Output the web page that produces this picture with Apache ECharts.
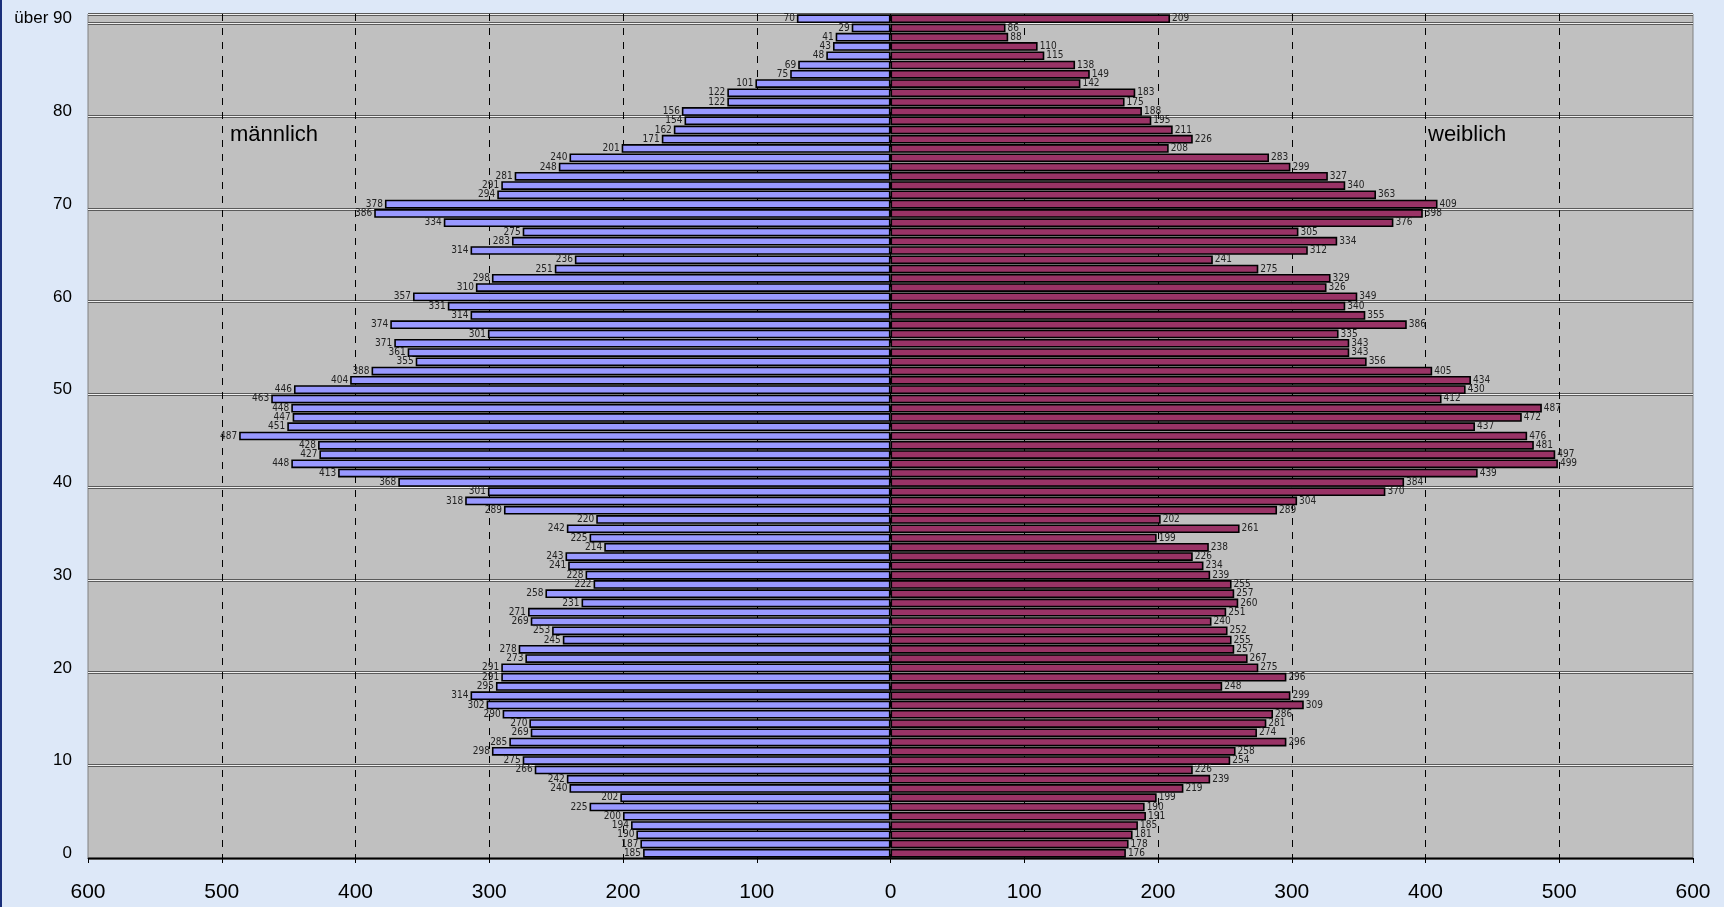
<!DOCTYPE html>
<html>
<head>
<meta charset="utf-8">
<script src="https://cdn.jsdelivr.net/npm/echarts@6/dist/echarts.min.js"></script>
<style>
html,body{margin:0;padding:0;background:#dde8f8;}
#chart{width:1724px;height:907px;}
</style>
</head>
<body>
<div id="chart"></div>
<script>
// Age categories (bottom to top)
const ages = ['0','1','2','3','4','5','6','7','8','9',
  '10','11','12','13','14','15','16','17','18','19',
  '20','21','22','23','24','25','26','27','28','29',
  '30','31','32','33','34','35','36','37','38','39',
  '40','41','42','43','44','45','46','47','48','49',
  '50','51','52','53','54','55','56','57','58','59',
  '60','61','62','63','64','65','66','67','68','69',
  '70','71','72','73','74','75','76','77','78','79',
  '80','81','82','83','84','85','86','87','88','89','über 90'];

// männlich, age 0 .. über 90
const male = [185,187,190,194,200,225,202,240,242,266,
  275,298,285,269,270,290,302,314,295,291,
  291,273,278,245,253,269,271,231,258,222,
  228,241,243,214,225,242,220,289,318,301,
  368,413,448,427,428,487,451,447,448,463,
  446,404,388,355,361,371,301,374,314,331,
  357,310,298,251,236,314,283,275,334,386,
  378,294,291,281,248,240,201,171,162,154,
  156,122,122,101,75,69,48,43,41,29,70];

// weiblich, age 0 .. über 90
const female = [176,178,181,185,191,190,199,219,239,226,
  254,258,296,274,281,286,309,299,248,296,
  275,267,257,255,252,240,251,260,257,255,
  239,234,226,238,199,261,202,289,304,370,
  384,439,499,497,481,476,437,472,487,412,
  430,434,405,356,343,343,335,386,355,340,
  349,326,329,275,241,312,334,305,376,398,
  409,363,340,327,299,283,208,226,211,195,
  188,175,183,142,149,138,115,110,88,86,209];

const xTicks = {min:-600, max:600, step:100};
const labelMale = 'männlich';
const labelFemale = 'weiblich';

const chart = echarts.init(document.getElementById('chart'));
const everyTen = (i) => i % 10 === 0;
const smallFont = "'Liberation Sans Narrow', 'DejaVu Sans Condensed', 'Liberation Sans', Arial, sans-serif";

chart.setOption({
  backgroundColor: '#dde8f8',
  animation: false,
  grid: {left: 88, right: 31, top: 14, bottom: 49, show: true,
         backgroundColor: '#c0c0c0', borderColor: '#808080', borderWidth: 1},
  xAxis: {
    type: 'value', min: xTicks.min, max: xTicks.max, interval: xTicks.step,
    axisLine: {show: true, onZero: false, lineStyle: {color: '#000', width: 1}},
    axisTick: {show: true, length: 5, lineStyle: {color: '#000'}},
    axisLabel: {formatter: v => Math.abs(v), color: '#000', fontSize: 21,
                fontFamily: 'Liberation Sans', margin: 24},
    splitLine: {show: true, showMinLine: false, showMaxLine: false,
                lineStyle: {color: '#000', type: [7, 7], width: 1}}
  },
  yAxis: [{
    type: 'category', data: ages,
    axisLine: {show: false}, axisTick: {show: false},
    axisLabel: {interval: everyTen, color: '#000', fontSize: 17,
                fontFamily: 'Liberation Sans', margin: 16},
    splitLine: {show: true, interval: everyTen, lineStyle: {color: '#5a5a5a', width: 3}}
  }, {
    type: 'category', data: ages, position: 'left',
    axisLine: {show: false}, axisTick: {show: false}, axisLabel: {show: false},
    splitLine: {show: true, interval: everyTen, lineStyle: {color: '#efefef', width: 1}}
  }],
  series: [{
    name: labelMale, type: 'bar', data: male.map(v => -v),
    barGap: '-100%', barCategoryGap: '6%',
    itemStyle: {color: '#9999ff', borderColor: '#000', borderWidth: 1.6},
    label: {show: true, position: 'left', distance: 2, formatter: p => Math.abs(p.value),
            fontSize: 10, fontFamily: smallFont, color: '#222'}
  }, {
    name: labelFemale, type: 'bar', data: female,
    barGap: '-100%', barCategoryGap: '6%',
    itemStyle: {color: '#993366', borderColor: '#000', borderWidth: 1.6},
    label: {show: true, position: 'right', distance: 2,
            fontSize: 10, fontFamily: smallFont, color: '#222'}
  }],
  graphic: [
    {type: 'rect', left: 0, top: 0, shape: {width: 2, height: 907}, style: {fill: '#1a2f7a'}},
    {type: 'text', left: 230, top: 124, style: {text: labelMale, fontSize: 22,
      fontFamily: 'Liberation Sans', fill: '#000'}},
    {type: 'text', left: 1428, top: 124, style: {text: labelFemale, fontSize: 22,
      fontFamily: 'Liberation Sans', fill: '#000'}}
  ]
});
</script>
</body>
</html>
